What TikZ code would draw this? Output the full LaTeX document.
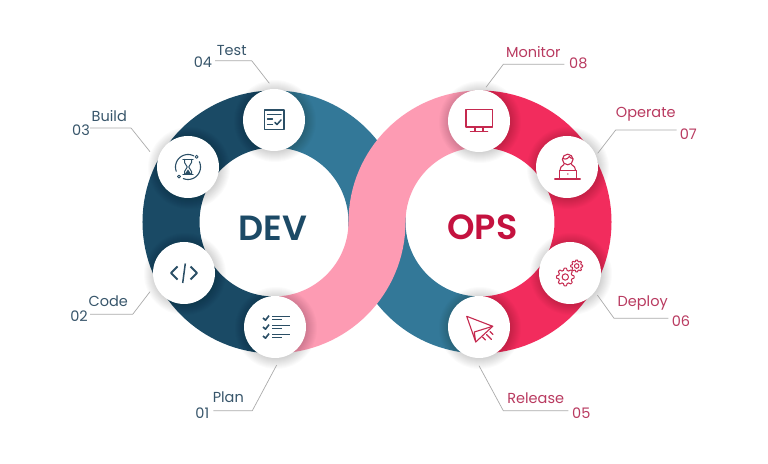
\documentclass[tikz,border=0pt]{standalone}
\usepackage{fontspec}
\setmainfont{Poppins}
\newfontfamily\popsemi{Poppins SemiBold}
\usetikzlibrary{calc}
\definecolor{navy}{HTML}{1A4A65}
\definecolor{bluem}{HTML}{337898}
\definecolor{pinkm}{HTML}{FD9BB3}
\definecolor{redm}{HTML}{F22C5D}
\definecolor{devtxt}{HTML}{1C4A66}
\definecolor{opstxt}{HTML}{C4123F}
\definecolor{lbld}{HTML}{38566B}
\definecolor{lblo}{HTML}{B93A60}
\definecolor{icod}{HTML}{2B4F66}
\definecolor{icoo}{HTML}{C5294F}
\definecolor{leadc}{HTML}{ABABAB}
\tikzset{
  band/.style={line width=57pt,line cap=butt},
  disc/.style={circle,fill=white,minimum size=62pt,inner sep=0pt},
  leader/.style={draw=leadc,line width=.7pt,line join=round},
  lbl/.style={font=\fontsize{14.5}{16}\selectfont,inner sep=0pt},
  dlbl/.style={lbl,text=lbld},
  olbl/.style={lbl,text=lblo},
  dico/.style={draw=icod,line width=1.2pt,line join=round,line cap=round},
  oico/.style={draw=icoo,line width=1.1pt,line join=round,line cap=round},
  title/.style={font=\popsemi\fontsize{35}{38}\selectfont,inner sep=0pt}
}
\newcommand{\softshadow}[2]{%
  \foreach \q in {1,...,11}{\fill[black,opacity=.014] (#1+1,#2+1) circle[radius=30pt+\q pt];}%
}
\newcommand{\gearplot}[5]{% style, cx, cy, radius, hole
  \draw[#1] plot[smooth,samples=113,domain=0:360] ({#2+(#4+.13*#4*max(-1,min(1,2*cos(8*\x))))*cos(\x)},{#3+(#4+.13*#4*max(-1,min(1,2*cos(8*\x))))*sin(\x)}) -- cycle;
  \draw[#1] (#2,#3) circle[radius=#5pt];
}
\begin{document}
\begin{tikzpicture}[x=1pt,y=1pt]
\useasboundingbox (0,0) rectangle (768,463);
\fill[white] (0,0) rectangle (768,463);
% y up: centre Y = 241
\draw[band,navy] (274,344) arc[start angle=90,end angle=270,radius=103pt];
\draw[band,bluem] (274,344) arc[start angle=90,end angle=-3,radius=103pt];
\draw[band,redm] (480,344) arc[start angle=90,end angle=-90,radius=103pt];
\draw[band,bluem] (480,138) arc[start angle=-90,end angle=-183,radius=103pt];
\draw[band,pinkm] (274,138) arc[start angle=-90,end angle=0,radius=103pt]
   arc[start angle=180,end angle=90,radius=103pt];
\begin{scope}[yshift=463pt,y=-1pt]
% shadows
\softshadow{274}{120}\softshadow{188}{167}\softshadow{184}{273}\softshadow{275}{327}
\softshadow{479}{121}\softshadow{567}{167}\softshadow{570}{273}\softshadow{479}{327}
% discs
\node[disc] (test) at (274,120) {};
\node[disc] (build) at (188,167) {};
\node[disc] (code) at (184,273) {};
\node[disc] (plan) at (275,327) {};
\node[disc] (monitor) at (479,121) {};
\node[disc] (operate) at (567,167) {};
\node[disc] (deploy) at (570,273) {};
\node[disc] (release) at (479,327) {};
% titles
\node[title,text=devtxt] (devt) at (273,228) {DEV};
\node[title,text=opstxt] (opst) at (482.5,227) {OPS};
% labels
\node[dlbl] (ltest) at (231.7,50.7) {Test};
\node[dlbl] (ntest) at (203,62) {04};
\node[dlbl] (lbuild) at (109.3,115.7) {Build};
\node[dlbl] (nbuild) at (81,130) {03};
\node[dlbl] (lcode) at (108.3,301.7) {Code};
\node[dlbl] (ncode) at (79,316) {02};
\node[dlbl] (lplan) at (228.3,397.7) {Plan};
\node[dlbl] (nplan) at (202.3,412.7) {01};
\node[olbl] (lmon) at (533.3,52) {Monitor};
\node[olbl] (nmon) at (578.3,63.3) {08};
\node[olbl] (lope) at (645.7,114.3) {Operate};
\node[olbl] (nope) at (688.3,134.3) {07};
\node[olbl] (ldep) at (642.7,302.7) {Deploy};
\node[olbl] (ndep) at (681,321.3) {06};
\node[olbl] (lrel) at (535.7,398) {Release};
\node[olbl] (nrel) at (581.3,412.7) {05};
% leaders
\coordinate (a1) at (215,60.7); \coordinate (b1) at (251.7,60.7); \coordinate (c1) at (269.3,83.3);
\coordinate (a2) at (90,128); \coordinate (b2) at (131,128); \coordinate (c2) at (150,151.7);
\coordinate (a3) at (90,314.3); \coordinate (b3) at (132.7,314.3); \coordinate (c3) at (150,291.7);
\coordinate (a4) at (213.3,410.7); \coordinate (b4) at (252.3,410.7); \coordinate (c4) at (276.7,365);
\coordinate (a5) at (564.3,64.3); \coordinate (b5) at (503.3,64.3); \coordinate (c5) at (486,87.3);
\coordinate (a6) at (676.7,130); \coordinate (b6) at (615.7,130); \coordinate (c6) at (597.7,153.3);
\coordinate (a7) at (668.3,318.3); \coordinate (b7) at (614,318.3); \coordinate (c7) at (597.3,295);
\coordinate (a8) at (568.3,410.7); \coordinate (b8) at (503.3,410.7); \coordinate (c8) at (479,365.7);
\foreach \i in {1,...,8}{\draw[leader] (a\i) -- (b\i) -- (c\i);}
% Test icon
\begin{scope}[shift={(test)}]
 \draw[dico,line width=1.6pt] (-9.5,-10) rectangle (10,9.5);
 \draw[dico] (-6.5,-5.5) -- (7,-5.5);
 \draw[dico] (-6.5,-1) -- (-1.5,-1);
 \draw[dico] (-6.5,4.5) -- (-1.5,4.5);
 \draw[dico,line width=1.5pt] (1,2.5) -- (3,4.5) -- (7,0);
\end{scope}
% Build icon
\begin{scope}[shift={(build)}]
 \draw[dico,line width=1.1pt] plot[smooth,samples=30,domain=-62:-200] ({12.5*cos(\x)},{12.5*sin(\x)});
 \draw[dico,line width=1.1pt] plot[smooth,samples=30,domain=-25:112] ({12.5*cos(\x)},{12.5*sin(\x)});
 \draw[dico,line width=.9pt] (8.6,-10.2) circle[radius=1.5pt];
 \draw[dico,line width=.9pt] (-9,9.6) circle[radius=1.5pt];
 \draw[dico] (-5,-7.5) -- (5,-7.5) (-5,7.5) -- (5,7.5);
 \draw[dico,line width=1pt] (-3.5,-7.5) -- (-3.5,-4.5) -- (-.7,0) -- (-3.5,4.5) -- (-3.5,7.5) (3.5,-7.5) -- (3.5,-4.5) -- (.7,0) -- (3.5,4.5) -- (3.5,7.5);
 \fill[icod] (-3.5,7.5) -- (0,2.5) -- (3.5,7.5) -- cycle;
\end{scope}
% Code icon
\begin{scope}[shift={(code)}]
 \draw[dico,line width=1.8pt,line cap=butt] (-6.5,-6.5) -- (-13,0) -- (-6.5,6.5);
 \draw[dico,line width=1.8pt,line cap=butt] (6.5,-6.5) -- (13,0) -- (6.5,6.5);
 \draw[dico,line width=1.5pt,line cap=butt] (1.3,-9.5) -- (-1.3,10);
\end{scope}
% Plan icon
\begin{scope}[shift={(plan)}]
 \foreach \yy in {-9,0,9}{
  \draw[dico,line width=1.6pt,line cap=butt] (-12,\yy) -- (-9.5,\yy+2.2) -- (-6,\yy-2.4);
  \draw[dico,line width=1.3pt,line cap=butt] (-3,\yy-1.6) -- (14.5,\yy-1.6);
  \draw[dico,line width=1.3pt,line cap=butt] (-3,\yy+1.4) -- (6.5,\yy+1.4);
 }
\end{scope}
% Monitor icon
\begin{scope}[shift={(monitor)}]
 \draw[oico] (-13,-11.7) rectangle (13.3,6);
 \draw[oico] (-4,6) -- (-4,10.5) (4,6) -- (4,10.5);
 \draw[oico] (-8.5,10.8) -- (8.7,10.8);
\end{scope}
% Operate icon
\begin{scope}[shift={(operate)}]
 \draw[oico] (.7,-7.5) circle[radius=5.3pt];
 \draw[oico] (-4.3,-8.5) .. controls (-1,-7) and (2,-9) .. (2.5,-10.5) .. controls (3,-9) and (4.5,-8.5) .. (6,-8.5);
 \draw[oico] (-3,-2.5) .. controls (-6,-1) and (-7,1) .. (-7,3.3);
 \draw[oico] (4.5,-2.5) .. controls (7.5,-1) and (8.5,1) .. (8.5,3.3);
 \draw[oico] (-7.5,11.7) -- (-7.5,3.3) -- (9.5,3.3) -- (9.5,11.7);
 \draw[oico] (-12.3,12) -- (13.3,12);
 \fill[icoo] (.9,7) circle[radius=.8pt];
\end{scope}
% Deploy icon
\begin{scope}[shift={(deploy)}]
 \gearplot{oico,line width=1pt}{-4.7}{4}{7.8}{3.2}
 \gearplot{oico,line width=1pt}{6.7}{-7}{5.3}{2.3}
\end{scope}
% Release icon
\begin{scope}[shift={(release)}]
 \draw[oico] (-12.3,-10.7) -- (13.7,-.7) -- (-4.7,5) -- (-3.3,15) -- cycle;
 \draw[oico] (13.7,-.7) -- (-3.3,15);
 \draw[oico] (3.5,10) -- (6.5,13);
 \draw[oico] (7.5,7.5) -- (12.5,12.5);
 \draw[oico] (11,4.5) -- (14,7.5);
\end{scope}
\end{scope}
\end{tikzpicture}
\end{document}
